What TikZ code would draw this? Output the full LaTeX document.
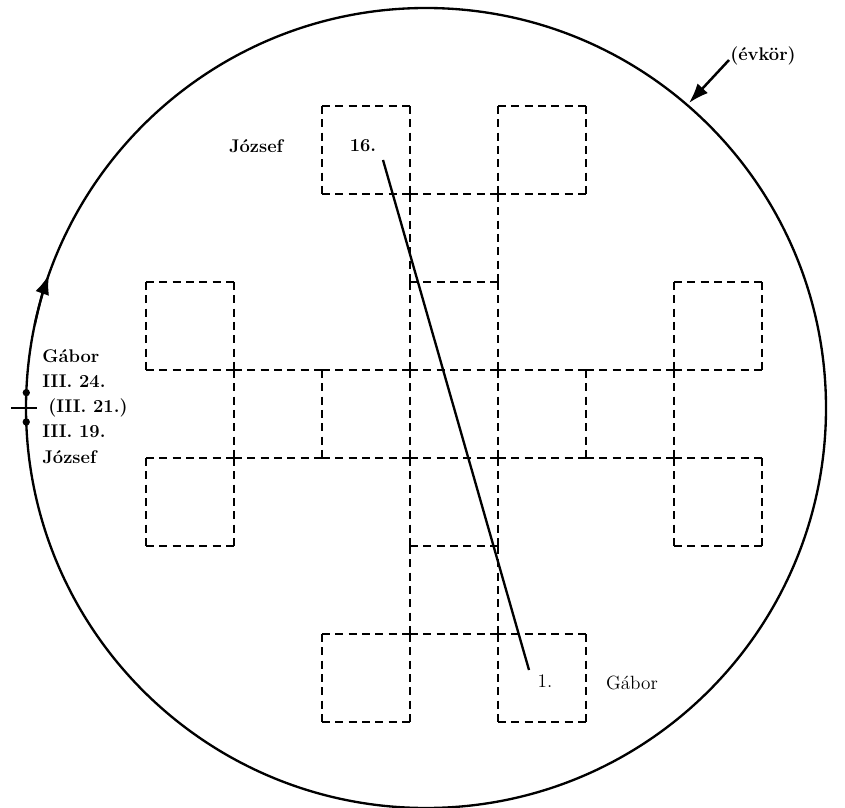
\documentclass[tikz,border=0pt]{standalone}
\usetikzlibrary{arrows.meta}
\begin{document}
\begin{tikzpicture}[x=0.6pt,y=-0.6pt,
  gridline/.style={line width=1.75pt, dash pattern=on 4.8pt off 3.2pt},
  lbl/.style={font=\fontsize{11}{13}\selectfont\bfseries, inner sep=0pt, anchor=base},
  lblw/.style={font=\fontsize{11}{13}\selectfont\bfseries, inner sep=0pt, anchor=base west},
  rlbl/.style={font=\fontsize{11.5}{13}\selectfont, inner sep=0pt, anchor=base},
  dot/.style={circle, fill, inner sep=0pt, minimum size=4.4pt},
  arr/.style={-{Latex[length=12pt,width=8.5pt]}}]
\useasboundingbox (0,0) rectangle (845,808);
\coordinate (C) at (426,408);
% year circle
\draw[line width=1.4pt] (C) circle[radius=400];
% horizontal unit segments
\foreach \i/\j in {2/0,4/0, 2/1,3/1,4/1, 0/2,3/2,6/2,
  0/3,1/3,2/3,3/3,4/3,5/3,6/3, 0/4,1/4,2/4,3/4,4/4,5/4,6/4,
  0/5,3/5,6/5, 2/6,3/6,4/6, 2/7,4/7}
  \draw[gridline] ({146+88*\i},{106+88*\j}) -- ({234+88*\i},{106+88*\j});
% vertical unit segments
\foreach \i/\j in {0/2,0/4, 1/2,1/3,1/4, 2/0,2/3,2/6,
  3/0,3/1,3/2,3/3,3/4,3/5,3/6, 4/0,4/1,4/2,4/3,4/4,4/5,4/6,
  5/0,5/3,5/6, 6/2,6/3,6/4, 7/2,7/4}
  \draw[gridline] ({146+88*\i},{106+88*\j}) -- ({146+88*\i},{194+88*\j});
% diagonal
\coordinate (p16) at (383,160);
\coordinate (p1) at (529,670);
\draw[line width=1.4pt] (p16) -- (p1);
% labels
\node[lbl] (n16) at (363,152) {16.};
\node[lbl] (jtop) at (256,153) {József};
\node[rlbl] (n1) at (545,687) {1.};
\node[rlbl] (gbot) at (632,689) {Gábor};
\node[lbl] (ev) at (763,61) {(évkör)};
\coordinate (evtail) at (729,60);
\coordinate (evtip) at (689,103);
\draw[arr, line width=1.5pt] (evtail) -- (evtip);
% left side
\node[lblw] (gl) at (42,363) {Gábor};
\node[lblw] (d24) at (42,388) {III. 24.};
\node[lblw] (d21) at (48,413) {(III. 21.)};
\node[lblw] (d19) at (42,438) {III. 19.};
\node[lblw] (jl) at (42,463) {József};
\node[dot] (dotA) at ([shift={(182.2:400)}]C) {};
\node[dot] (dotB) at ([shift={(178:400)}]C) {};
\coordinate (tickL) at (11,408);
\coordinate (tickR) at (37,408);
\draw[line width=1.1pt] (tickL) -- (tickR);
\draw[arr, line width=1.4pt] ([shift={(192:400)}]C) arc[start angle=192, end angle=199.5, radius=400];
\end{tikzpicture}
\end{document}
